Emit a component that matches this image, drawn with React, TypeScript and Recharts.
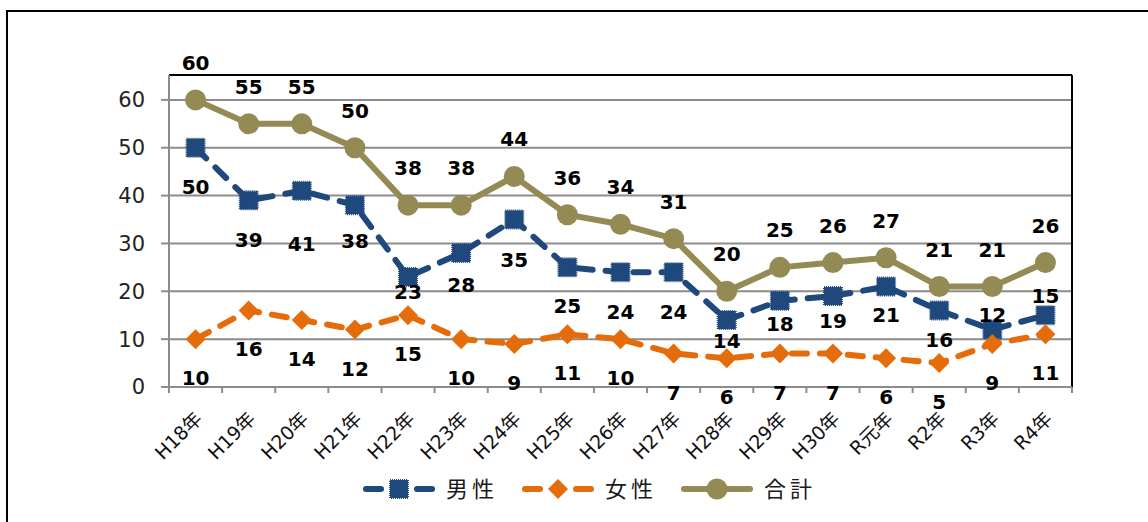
import { CartesianGrid, LabelList, Legend, Line, LineChart, ReferenceLine, XAxis, YAxis } from "recharts";

const categories = [
  "H18年", "H19年", "H20年", "H21年", "H22年", "H23年", "H24年", "H25年", "H26年",
  "H27年", "H28年", "H29年", "H30年", "R元年", "R2年", "R3年", "R4年",
];
const male = [50, 39, 41, 38, 23, 28, 35, 25, 24, 24, 14, 18, 19, 21, 16, 12, 15];
const female = [10, 16, 14, 12, 15, 10, 9, 11, 10, 7, 6, 7, 7, 6, 5, 9, 11];
const total = [60, 55, 55, 50, 38, 38, 44, 36, 34, 31, 20, 25, 26, 27, 21, 21, 26];
const yTicks = [0, 10, 20, 30, 40, 50, 60];

// label placement (offset of the label centre from the point), as in the source sheet
const maleLabelDy = [39, 40, 53, 36, 15, 32, 40, 39, 40, 40, 21, 23, 25, 28, 30, -15, -19];

const data = categories.map((name, i) => ({
  idx: i,
  name,
  male: male[i],
  female: female[i],
  total: total[i],
}));

const W = 1148;
const H = 522;
const LEFT = 169;
const RIGHT = 76;
const TOP = 75;
const X_AXIS_H = 135;
const BAND = (W - LEFT - RIGHT) / categories.length;

const BLUE = "#1F497D";
const ORANGE = "#E46C0A";
const OLIVE = "#948A54";
const GRID = "#8C8C8C";
const NUM_FONT = "'DejaVu Sans', 'Noto Sans CJK JP', sans-serif";
const JP_FONT = "'Noto Sans CJK JP', sans-serif";

const CategoryTick = (props: any) => {
  const { x, y, payload, index } = props;
  const name = categories[payload.value];
  const tx = x + 8;
  const ty = y + 27;
  return (
    <g>
      <line x1={x - BAND / 2} y1={y - 6} x2={x - BAND / 2} y2={y} stroke={GRID} strokeWidth={2} />
      {index === categories.length - 1 ? (
        <line x1={x + BAND / 2} y1={y - 6} x2={x + BAND / 2} y2={y} stroke={GRID} strokeWidth={2} />
      ) : null}
      <text
        x={tx}
        y={ty}
        transform={`rotate(-45, ${tx}, ${ty})`}
        textAnchor="end"
        fontSize={19}
        fontFamily={NUM_FONT}
        fill="#111"
      >
        {name}
      </text>
    </g>
  );
};

const makeLabel = (dyFor: (i: number) => number) => (props: any) => {
  const { x, y, value, index } = props;
  return (
    <text
      x={x}
      y={y + dyFor(index) + 7}
      textAnchor="middle"
      fontSize={20}
      fontWeight="bold"
      fontFamily={NUM_FONT}
      fill="#000"
    >
      {value}
    </text>
  );
};

const SquareDot = (props: any) => {
  const { cx, cy, index } = props;
  return (
    <rect
      key={`sq-${index}`}
      x={cx - 9}
      y={cy - 9}
      width={18}
      height={18}
      fill={BLUE}
      stroke={BLUE}
      strokeWidth={2}
      strokeDasharray="1 1"
    />
  );
};

const DiamondDot = (props: any) => {
  const { cx, cy, index } = props;
  return (
    <polygon
      key={`dm-${index}`}
      points={`${cx},${cy - 10} ${cx + 10},${cy} ${cx},${cy + 10} ${cx - 10},${cy}`}
      fill={ORANGE}
    />
  );
};

const CircleDot = (props: any) => {
  const { cx, cy, index } = props;
  return <circle key={`ci-${index}`} cx={cx} cy={cy} r={10.5} fill={OLIVE} />;
};

const legendItems = [
  { label: "男性", color: BLUE, dash: "15 13", marker: "square" },
  { label: "女性", color: ORANGE, dash: "15 13", marker: "diamond" },
  { label: "合計", color: OLIVE, dash: undefined, marker: "circle" },
];

const LegendContent = () => {
  const startX = 363;
  const step = 159;
  const cy = 19;
  return (
    <svg width={W} height={40}>
      {legendItems.map((item, i) => {
        const x0 = startX + i * step;
        const mx = x0 + 36;
        return (
          <g key={item.label}>
            {item.dash ? (
              <>
                <line x1={x0 + 3} y1={cy} x2={x0 + 18} y2={cy} stroke={item.color} strokeWidth={6} strokeLinecap="round" />
                <line x1={x0 + 54} y1={cy} x2={x0 + 69} y2={cy} stroke={item.color} strokeWidth={6} strokeLinecap="round" />
              </>
            ) : (
              <line x1={x0 + 3} y1={cy} x2={x0 + 69} y2={cy} stroke={item.color} strokeWidth={6} strokeLinecap="round" />
            )}
            {item.marker === "square" ? <SquareDot cx={mx} cy={cy} index={i} /> : null}
            {item.marker === "diamond" ? <DiamondDot cx={mx} cy={cy} index={i} /> : null}
            {item.marker === "circle" ? <CircleDot cx={mx} cy={cy} index={i} /> : null}
            <text
              x={x0 + 83}
              y={cy + 8}
              fontSize={22}
              fontFamily={JP_FONT}
              letterSpacing={4}
              fill="#1a1a1a"
            >
              {item.label}
            </text>
          </g>
        );
      })}
    </svg>
  );
};

export default function App() {
  return (
    <div
      style={{
        position: "absolute",
        left: 0,
        top: 0,
        width: W,
        height: H,
        overflow: "hidden",
        background: "#fff",
      }}
    >
      <div
        style={{
          position: "absolute",
          left: 6,
          top: 10,
          width: W + 40,
          height: H + 40,
          border: "2px solid #000",
        }}
      />
      <div style={{ position: "absolute", left: 0, top: 0 }}>
        <LineChart
          width={W}
          height={H}
          data={data}
          margin={{ top: TOP, right: RIGHT, bottom: 0, left: 0 }}
        >
          <CartesianGrid vertical={false} stroke={GRID} strokeWidth={2} />
          <XAxis
            dataKey="idx"
            type="number"
            domain={[-0.5, categories.length - 0.5]}
            ticks={categories.map((_, i) => i)}
            interval={0}
            height={X_AXIS_H}
            stroke={GRID}
            strokeWidth={2}
            tickLine={false}
            tickSize={6}
            tickMargin={0}
            tick={<CategoryTick />}
          />
          <YAxis
            width={LEFT}
            domain={[0, 65.2]}
            ticks={yTicks}
            interval={0}
            stroke={GRID}
            strokeWidth={2}
            tickSize={8}
            tickMargin={16}
            tick={{ fontSize: 21, fontFamily: NUM_FONT, fill: "#222" }}
          />
          <ReferenceLine y={65.2} stroke="#000" strokeWidth={2} />
          <ReferenceLine x={categories.length - 0.5} stroke="#000" strokeWidth={2} />
          <Line
            dataKey="male"
            name="男性"
            stroke={BLUE}
            strokeWidth={6}
            strokeDasharray="15 13"
            strokeLinecap="round"
            dot={SquareDot}
            activeDot={false}
            isAnimationActive={false}
          >
            <LabelList dataKey="male" content={makeLabel((i) => maleLabelDy[i])} />
          </Line>
          <Line
            dataKey="female"
            name="女性"
            stroke={ORANGE}
            strokeWidth={6}
            strokeDasharray="15 13"
            strokeLinecap="round"
            dot={DiamondDot}
            activeDot={false}
            isAnimationActive={false}
          >
            <LabelList dataKey="female" content={makeLabel(() => 39)} />
          </Line>
          <Line
            dataKey="total"
            name="合計"
            stroke={OLIVE}
            strokeWidth={6}
            dot={CircleDot}
            activeDot={false}
            isAnimationActive={false}
          >
            <LabelList dataKey="total" content={makeLabel(() => -37)} />
          </Line>
          <Legend
            layout="horizontal"
            verticalAlign="middle"
            align="center"
            content={<LegendContent />}
            wrapperStyle={{ left: 0, top: 470, width: W, height: 40 }}
          />
        </LineChart>
      </div>
    </div>
  );
}
